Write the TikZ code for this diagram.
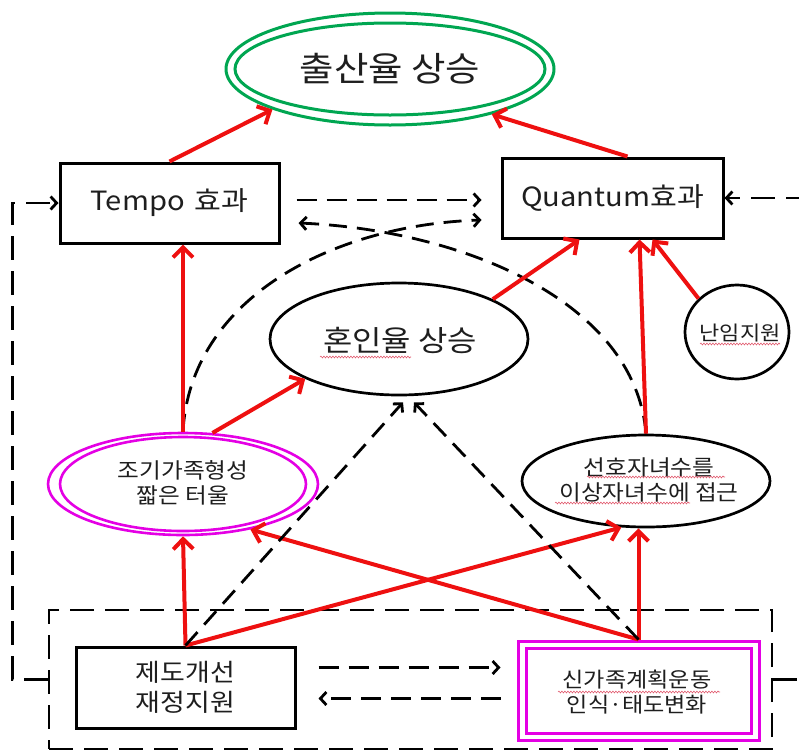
\documentclass[tikz,border=0pt]{standalone}
\usepackage{fontspec}
\setmainfont[FakeStretch=1.1]{Noto Sans CJK KR}
\usetikzlibrary{arrows.meta,shapes.geometric,decorations.pathmorphing,calc}
\definecolor{myred}{RGB}{238,16,16}
\definecolor{mygreen}{RGB}{0,166,81}
\definecolor{mymag}{RGB}{228,0,228}
\definecolor{wavecol}{RGB}{225,90,110}
\definecolor{txtcol}{RGB}{30,30,30}
\begin{document}
\begin{tikzpicture}[x=1pt,y=-1pt,
  every node/.style={text=txtcol},
  box/.style={draw, line width=3pt, rectangle, inner sep=0pt, align=center},
  ell/.style={draw, line width=2.7pt, ellipse, inner sep=0pt},
  txt/.style={inner sep=0pt, align=center},
  redarr/.style={draw=myred, line width=4pt, -{Straight Barb[length=10pt,width=20pt]}},
  dasharr/.style={line width=2.8pt, dash pattern=on 20pt off 10pt, -{Straight Barb[length=6pt,width=13pt]}},
  dashline/.style={line width=2.8pt, dash pattern=on 24pt off 11pt},
  wavy/.style={draw=wavecol, line width=0.6pt, decorate, decoration={snake, amplitude=0.9pt, segment length=3pt}},
]
\useasboundingbox (0,0) rectangle (799,750);
\clip (0,0) rectangle (799,750);

% big dashed frame
\node[dashline, draw, rectangle, inner sep=0pt, minimum width=723pt, minimum height=139pt] (bigbox) at (410.5,679.5) {};

% top ellipse
\node[ellipse, draw=mygreen, line width=3pt, inner sep=0pt, minimum width=328pt, minimum height=112pt, font={\fontsize{34}{38}\selectfont}] (birth) at (390,69) {출산율 상승};
\draw[mygreen, line width=3pt] (birth.center) ellipse [x radius=155, y radius=46];

% boxes
\node[box, minimum width=219pt, minimum height=80pt, font={\fontsize{26.5}{30}\selectfont}] (tempo) at (169.5,203) {Tempo\hspace{10pt}효과};
\node[box, minimum width=221pt, minimum height=80pt, font={\fontsize{26.5}{30}\selectfont}] (quantum) at (612.5,198) {Quantum효과};

% middle ellipses
\node[ell, minimum width=258pt, minimum height=112pt] (marriage) at (399,339) {};
\node[txt, font={\fontsize{29}{32}\selectfont}] (marriaget) at (400,340) {혼인율 상승};

\node[ell, minimum width=104pt, minimum height=94pt] (infert) at (737,332) {};
\node[txt, font={\fontsize{20}{22}\selectfont}] (infertt) at (740,333) {난임지원};

\node[ell, draw=mymag, line width=2.6pt, minimum width=270pt, minimum height=102pt] (early) at (183,484) {};
\draw[mymag, line width=2.6pt] (early.center) ellipse [x radius=123, y radius=47];
\node[txt, font={\fontsize{21.5}{25}\selectfont}] (earlyt) at (183,482.5) {조기가족형성\\짧은 터울};

\node[ell, minimum width=248pt, minimum height=92pt] (pref) at (646,481) {};
\node[txt, font={\fontsize{21.5}{25}\selectfont}] (preft) at (649,479.5) {선호자녀수를\\이상자녀수에 접근};

% bottom boxes
\node[box, minimum width=219pt, minimum height=81pt, font={\fontsize{24.5}{30}\selectfont}] (inst) at (185.5,687.5) {제도개선\\재정지원};
\node[box, draw=mymag, minimum width=241pt, minimum height=99pt] (newfam) at (638.5,690.5) {};
\draw[mymag, line width=3pt] ([shift={(10,9)}]newfam.north west) rectangle ([shift={(-9,-8)}]newfam.south east);
\node[txt, font={\fontsize{21}{25}\selectfont}] (newfamt) at (637,692.5) {신가족계획운동\\인식·태도변화};

% spell-check wavy underlines
\draw[wavy] (320,357) -- (411,357);
\draw[wavy] (700,344) -- (780,344);
\draw[wavy] (587,477) -- (725,477);
\draw[wavy] (555,503) -- (690,503);
\draw[wavy] (558,692) -- (720,692);

% feedback loops
\draw[dasharr, dash pattern=on 24pt off 11pt] (bigbox.west) -- ++(-35,0) |- (tempo.west);
\draw[dasharr, dash pattern=on 24pt off 11pt] (bigbox.east) -- ++(40,0) |- (quantum.east);

% dashed arrows between top boxes
\draw[dasharr] ([shift={(16,-3)}]tempo.east) -- ([shift={(-19,2)}]quantum.west);
\draw[dasharr, dash pattern=on 18pt off 10pt] (early.north) .. controls (190,300) and (330,225) .. ([shift={(-19,22)}]quantum.west);
\draw[dasharr, dash pattern=on 18pt off 10pt] (pref.north) .. controls (635,300) and (460,230) .. ([shift={(18,20)}]tempo.east);

% dashed arrows between bottom boxes
\draw[dasharr] ([shift={(22,-20)}]inst.east) -- ([shift={(-16,-23)}]newfam.west);
\draw[dasharr] ([shift={(-16,8)}]newfam.west) -- ([shift={(22,11)}]inst.east);

% red arrows
\draw[redarr] (tempo.north) -- (birth.199);
\draw[redarr] ([xshift=15pt]quantum.north) -- (birth.336);
\draw[redarr] (early.north) -- (early.north |- tempo.south);
\draw[redarr] (early.60) -- (marriage.203);
\draw[redarr] (marriage.23) -- ([xshift=-33pt]quantum.south);
\draw[redarr] (pref.north) -- ([xshift=27pt]quantum.south);
\draw[redarr] (infert.139) -- ([xshift=40pt]quantum.south);
\draw[redarr] (inst.north) -- (early.south);
\draw[redarr] (inst.north) -- (pref.242);
\draw[redarr] (newfam.north) -- (early.326);
\draw[redarr] (newfam.north) -- (newfam.north |- pref.south);

% dashed arrows to marriage
\draw[dasharr, dash pattern=on 18pt off 10pt] (inst.north) -- ([shift={(4,6)}]marriage.south);
\draw[dasharr, dash pattern=on 18pt off 10pt] (newfam.north) -- ([shift={(15,6)}]marriage.south);
\end{tikzpicture}
\end{document}
